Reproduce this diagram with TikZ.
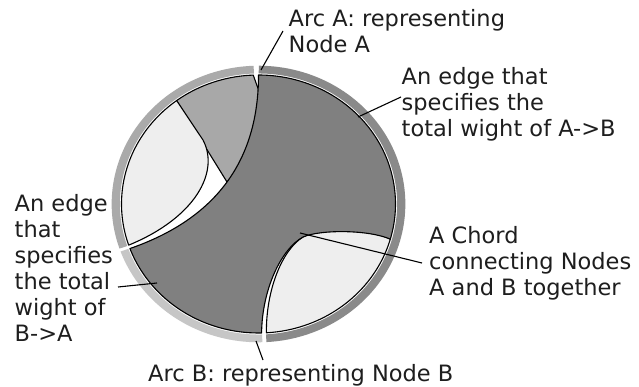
\documentclass[tikz,border=0pt]{standalone}
\usepackage{fontspec}
\setmainfont{DejaVu Sans}
\definecolor{ringdark}{RGB}{138,138,138}
\definecolor{ringmid}{RGB}{170,170,170}
\definecolor{ringlight}{RGB}{198,198,198}
\definecolor{chorddark}{RGB}{128,128,128}
\definecolor{chordmid}{RGB}{168,168,168}
\definecolor{chordlight}{RGB}{238,238,238}
\definecolor{txt}{RGB}{30,30,30}
\newcommand{\firstln}{\rule{0pt}{20pt}}
\begin{document}
\begin{tikzpicture}[x=1pt,y=-1pt,
  lbl/.style={font=\fontsize{22.5}{26}\selectfont, text=txt, align=left, anchor=north west, inner sep=0pt},
  ptr/.style={draw=black, line width=1.1pt},
  chord/.style={draw=black, line width=1.1pt, line join=round}]
\useasboundingbox (0,0) rectangle (639,387);
\fill[white] (0,0) rectangle (639,387);

% helper points (pixel coordinates)
\coordinate (lb) at (203,140);
\coordinate (lc1) at (220,172);
\coordinate (lc2) at (195,218);
\coordinate (tip) at (227,182);
\coordinate (mi1) at (260.5,150);
\coordinate (mi2) at (260,94);
\coordinate (cusp) at (303,237);
\coordinate (ra1) at (266,290);
\coordinate (ra2) at (282,250);
\coordinate (rb1) at (320,228);
\coordinate (rb2) at (368,228);
\coordinate (da1) at (368,229.5);
\coordinate (da2) at (320,229.5);
\coordinate (db1) at (281,249);
\coordinate (db2) at (262,290);

\begin{scope}[shift={(258.5,204)}, x=137pt, y=129pt]
  % outer ring (group arcs)
  \fill[ringdark] plot[domain=-86.9:89.9,samples=90] ({\x}:1.012) -- plot[domain=89.9:-86.9,samples=90] ({\x}:1.072) -- cycle;
  \fill[ringmid] plot[domain=91.9:198.8,samples=60] ({\x}:1.012) -- plot[domain=198.8:91.9,samples=60] ({\x}:1.072) -- cycle;
  \fill[ringlight] plot[domain=200.1:271.5,samples=40] ({\x}:1.012) -- plot[domain=271.5:200.1,samples=40] ({\x}:1.072) -- cycle;

  % upper-left medium chord
  \filldraw[chord, fill=chordmid] plot[domain=92.2:126.7,samples=30] ({\x}:1) -- (tip) -- (mi1) -- (mi2) -- cycle;
  % left light chord
  \filldraw[chord, fill=chordlight] plot[domain=126.7:198.6,samples=50] ({\x}:1) .. controls (lc2) and (lc1) .. (lb) -- cycle;
  % bottom-right light chord
  \filldraw[chord, fill=chordlight] plot[domain=273.3:344.2,samples=50] ({\x}:1) .. controls (rb2) and (rb1) .. (cusp) .. controls (ra2) and (ra1) .. (273.3:1) -- cycle;
  % big dark chord A <-> B
  \filldraw[chord, fill=chorddark] plot[domain=344.2:450,samples=70] ({\x}:1) .. controls (90:0.3333) and (200.2:0.3333) .. (200.2:1) -- plot[domain=200.2:271.3,samples=40] ({\x}:1) .. controls (db2) and (db1) .. (cusp) .. controls (da2) and (da1) .. (344.2:1) -- cycle;
\end{scope}

% labels
\node[lbl] (arcA) at (288.5,6.5) {\firstln Arc A: representing\\Node A};
\node[lbl] (edgeAB) at (401.5,64) {\firstln An edge that\\specifies the\\total wight of A->B};
\node[lbl] (chordlbl) at (429,223) {\firstln A Chord\\connecting Nodes\\A and B together};
\node[lbl] (edgeBA) at (14.5,191.5) {\firstln An edge\\that\\specifies\\the total\\wight of\\B->A};
\node[lbl] (arcB) at (148,361) {\firstln Arc B: representing Node B};

% pointer lines
\coordinate (pA1) at (283,31);   \coordinate (pA2) at (261,70);
\coordinate (pE1) at (401,97);   \coordinate (pE2) at (358,117);
\coordinate (pC1) at (422,263);  \coordinate (pC2) at (300,233);
\coordinate (pF1) at (118,287);  \coordinate (pF2) at (157,283);
\coordinate (pB1) at (256,341);  \coordinate (pB2) at (263,360);
\draw[ptr] (pA1) -- (pA2);
\draw[ptr] (pE1) -- (pE2);
\draw[ptr] (pC1) -- (pC2);
\draw[ptr] (pF1) -- (pF2);
\draw[ptr] (pB1) -- (pB2);
\end{tikzpicture}
\end{document}
